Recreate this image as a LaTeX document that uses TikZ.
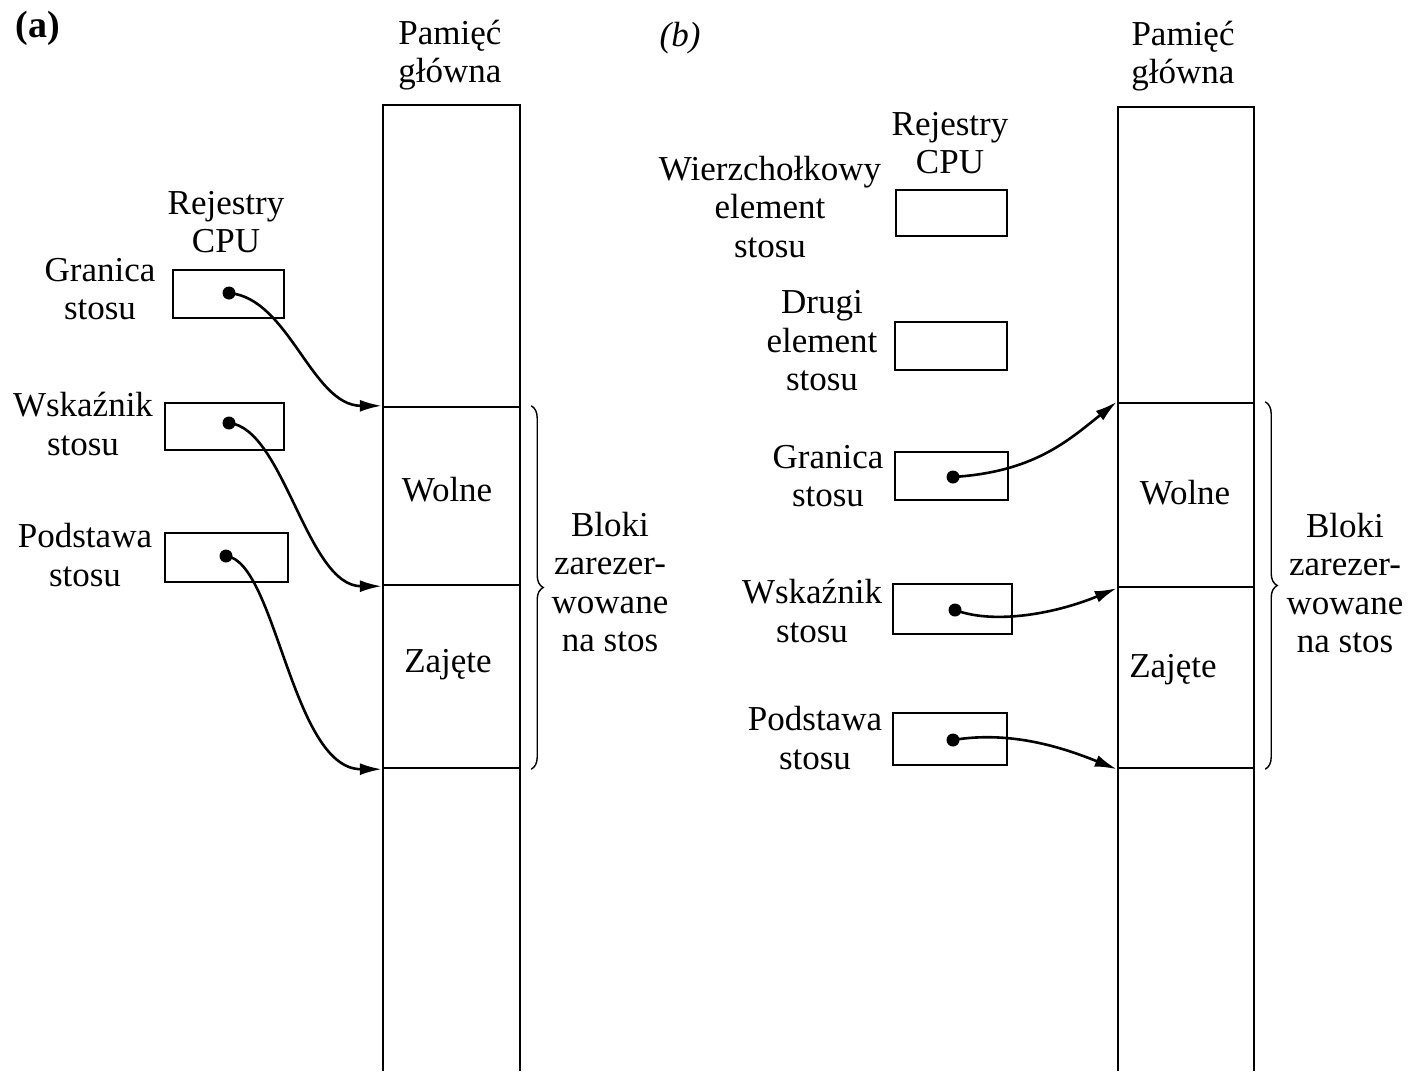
\documentclass[tikz,border=0pt]{standalone}
\usepackage{fontspec}
\setmainfont{Liberation Serif}
\usetikzlibrary{arrows.meta,decorations.pathreplacing}
\begin{document}
\begin{tikzpicture}[x=1pt,y=-1pt,
  lbl/.style={align=center,inner sep=0pt,font=\fontsize{35}{38.5}\selectfont},
  reg/.style={draw,line width=2.4pt,rectangle,inner sep=0pt},
  mem/.style={rectangle,inner sep=0pt,minimum width=137pt},
  region/.style={draw,line width=2.4pt,rectangle,inner sep=0pt,minimum width=137pt},
  dot/.style={circle,fill,inner sep=0pt,minimum size=13pt},
  ptr/.style={line width=2.6pt,-{Latex[length=22pt,width=12pt]}},
  bracel/.style={decorate,decoration={brace,amplitude=12pt},line width=1.4pt}]
\useasboundingbox (0,0) rectangle (1410,1071);

% panel labels
\node[lbl,font=\fontsize{38}{40}\selectfont\bfseries] (la) at (38,28) {(a)};
\node[lbl] (lb) at (680,38) {\itshape (b)};

% ===== left panel =====
\node[mem,minimum height=966pt] (memA) at (451.5,588) {};
\draw[line width=2.4pt] (memA.south west) -- (memA.north west) -- (memA.north east) -- (memA.south east);
\node[region,minimum height=178pt] (wA) at (451.5,496) {};
\node[region,minimum height=183pt] (zA) at (451.5,676.5) {};
\node[lbl] (pamA) at (450,55) {Pamięć\\główna};
\node[lbl] (wolA) at (447,490) {Wolne};
\node[lbl] (zajA) at (448,665) {Zajęte};
\draw[bracel] ([xshift=10pt]wA.north east) -- ([xshift=10pt]zA.south east);
\node[lbl] (blA) at (610,582) {Bloki\\zarezer-\\wowane\\na stos};

\node[lbl] (rejA) at (226,222) {Rejestry\\CPU};
\node[reg,minimum width=111pt,minimum height=48pt] (gA) at (228.5,294) {};
\node[reg,minimum width=119pt,minimum height=47pt] (sA) at (224.5,426.5) {};
\node[reg,minimum width=123pt,minimum height=49pt] (bA) at (226.5,557.5) {};
\node[lbl] (gAl) at (100,289) {Granica\\stosu};
\node[lbl] (sAl) at (83,424) {Wskaźnik\\stosu};
\node[lbl] (bAl) at (85,555) {Podstawa\\stosu};
\node[dot] (dgA) at (229,293) {};
\node[dot] (dsA) at (229,423) {};
\node[dot] (dbA) at (226,556) {};
\draw[ptr] (dgA.center) .. controls +(60,5) and +(-70,0) .. (wA.north west);
\draw[ptr] (dsA.center) .. controls +(55,5) and +(-75,0) .. (wA.south west);
\draw[ptr] (dbA.center) .. controls +(50,5) and +(-90,0) .. (zA.south west);

% ===== right panel =====
\node[mem,minimum width=136pt,minimum height=964pt] (memB) at (1186,589) {};
\draw[line width=2.4pt] (memB.south west) -- (memB.north west) -- (memB.north east) -- (memB.south east);
\node[region,minimum width=136pt,minimum height=184pt] (wB) at (1186,495) {};
\node[region,minimum width=136pt,minimum height=181pt] (zB) at (1186,677.5) {};
\node[lbl] (pamB) at (1183,56) {Pamięć\\główna};
\node[lbl] (wolB) at (1185,493) {Wolne};
\node[lbl] (zajB) at (1173,670) {Zajęte};
\draw[bracel] ([xshift=10pt]wB.north east) -- ([xshift=10pt]zB.south east);
\node[lbl] (blB) at (1345,583) {Bloki\\zarezer-\\wowane\\na stos};

\node[lbl] (rejB) at (950,143) {Rejestry\\CPU};
\node[reg,minimum width=111pt,minimum height=46pt] (tB) at (951.5,213) {};
\node[reg,minimum width=112pt,minimum height=48pt] (eB) at (951,346) {};
\node[reg,minimum width=113pt,minimum height=48pt] (gB) at (951.5,476) {};
\node[reg,minimum width=119pt,minimum height=50pt] (sB) at (952.5,609) {};
\node[reg,minimum width=114pt,minimum height=52pt] (bB) at (950,739) {};
\node[lbl] (tBl) at (770,207) {Wierzchołkowy\\element\\stosu};
\node[lbl] (eBl) at (822,341) {Drugi\\element\\stosu};
\node[lbl] (gBl) at (828,476) {Granica\\stosu};
\node[lbl] (sBl) at (812,611) {Wskaźnik\\stosu};
\node[lbl] (bBl) at (815,738) {Podstawa\\stosu};
\node[dot] (dgB) at (953,477) {};
\node[dot] (dsB) at (955,610) {};
\node[dot] (dbB) at (953,740) {};
\draw[ptr] (dgB.center) .. controls +(80,-5) and +(-50,40) .. (wB.north west);
\draw[ptr] (dsB.center) .. controls +(40,15) and +(-60,25) .. (wB.south west);
\draw[ptr] (dbB.center) .. controls +(60,-10) and +(-50,-20) .. (zB.south west);
\end{tikzpicture}
\end{document}
